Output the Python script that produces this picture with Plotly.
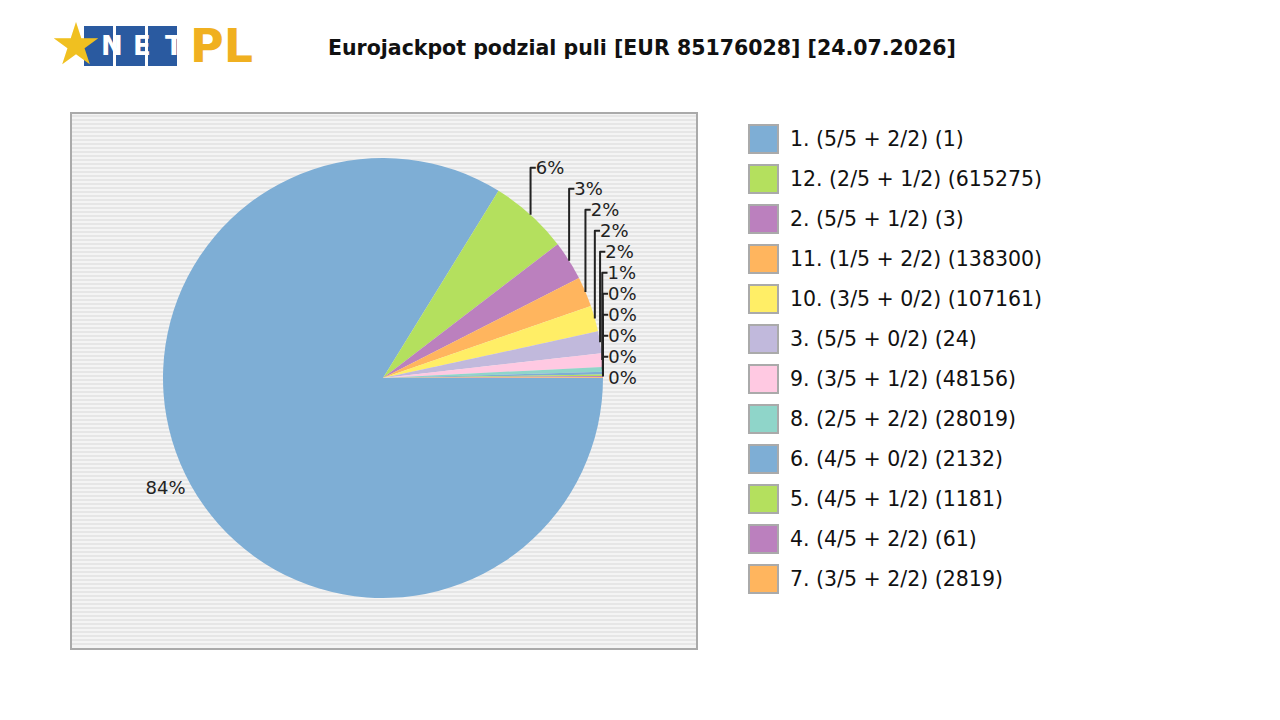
import plotly.graph_objects as go

labels = ["1. (5/5 + 2/2) (1)", "12. (2/5 + 1/2) (615275)", "2. (5/5 + 1/2) (3)",
          "11. (1/5 + 2/2) (138300)", "10. (3/5 + 0/2) (107161)", "3. (5/5 + 0/2) (24)",
          "9. (3/5 + 1/2) (48156)", "8. (2/5 + 2/2) (28019)", "6. (4/5 + 0/2) (2132)",
          "5. (4/5 + 1/2) (1181)", "4. (4/5 + 2/2) (61)", "7. (3/5 + 2/2) (2819)"]
values = [83.8, 5.8, 2.9, 2.2, 1.9, 1.6, 1.0, 0.35, 0.2, 0.1, 0.1, 0.05]
colors = ["#7eaed5", "#b4e05e", "#bb80be", "#ffb55e", "#ffee66", "#c1b9dc",
          "#ffc9e2", "#8fd5c9", "#7eaed5", "#b4e05e", "#bb80be", "#ffb55e"]
title = "Eurojackpot podzial puli [EUR 85176028] [24.07.2026]"

W, H = 1280, 720
OFF = 8  # page body margin


def px(x):
    return (x - OFF) / W


def py(y):
    return 1 - (y - OFF) / H


cx, cy, r = 383, 378, 220
fig = go.Figure(go.Pie(
    labels=labels, values=values, sort=False, direction="clockwise", rotation=90,
    marker=dict(colors=colors, line=dict(width=0)),
    texttemplate="%{percent:.0%}", textposition="outside",
    textfont=dict(size=18, color="#222"), showlegend=False,
    domain=dict(x=[px(cx - r), px(cx + r)], y=[py(cy + r), py(cy - r)]),
))
shapes = [dict(type="rect", xref="paper", yref="paper", x0=px(71), x1=px(697),
               y0=py(649), y1=py(113), fillcolor="#f4f4f4",
               line=dict(color="#aaaaaa", width=2), layer="below")]
for yy in range(116, 648, 4):
    shapes.append(dict(type="line", xref="paper", yref="paper", x0=px(72), x1=px(696),
                       y0=py(yy), y1=py(yy), line=dict(color="#e2e2e2", width=1.5),
                       layer="below"))
anns = [dict(text=f"<b>{title}</b>", x=px(642), y=py(48), xref="paper", yref="paper",
             yanchor="middle", showarrow=False,
             font=dict(size=20.5, color="#111", family="DejaVu Sans"))]
anns.append(dict(text="★", x=px(48), y=py(44), xref="paper", yref="paper",
                 yanchor="middle", showarrow=False, font=dict(size=58, color="#f0c020")))
for i, ch in enumerate("NET"):
    x0 = 84 + i * 32
    shapes.append(dict(type="rect", xref="paper", yref="paper", x0=px(x0), x1=px(x0 + 29),
                       y0=py(66), y1=py(26), fillcolor="#2a5aa0", line=dict(width=0)))
    anns.append(dict(text=f"<b>{ch}</b>", x=px(x0 + 14.5), y=py(46), xref="paper",
                     yref="paper", yanchor="middle", showarrow=False,
                     font=dict(size=26, color="white")))
anns.append(dict(text="<b>PL</b>", x=px(188), y=py(46), xref="paper", yref="paper",
                 xanchor="left", yanchor="middle", showarrow=False,
                 font=dict(size=46, color="#f0b020", family="DejaVu Sans")))
for i, (lab, col) in enumerate(zip(labels, colors)):
    yc = 139 + 40 * i
    shapes.append(dict(type="rect", xref="paper", yref="paper", x0=px(749), x1=px(778),
                       y0=py(yc + 14), y1=py(yc - 14), fillcolor=col,
                       line=dict(color="#aaaaaa", width=2)))
    anns.append(dict(text=lab, x=px(788), y=py(yc), xref="paper", yref="paper",
                     xanchor="left", yanchor="middle", showarrow=False,
                     font=dict(size=20.5, color="#111")))
fig.update_layout(
    width=W, height=H, margin=dict(l=0, r=0, t=0, b=0), paper_bgcolor="white",
    font=dict(family="DejaVu Sans", color="#111"), shapes=shapes, annotations=anns,
)
fig.write_html("out.html")
